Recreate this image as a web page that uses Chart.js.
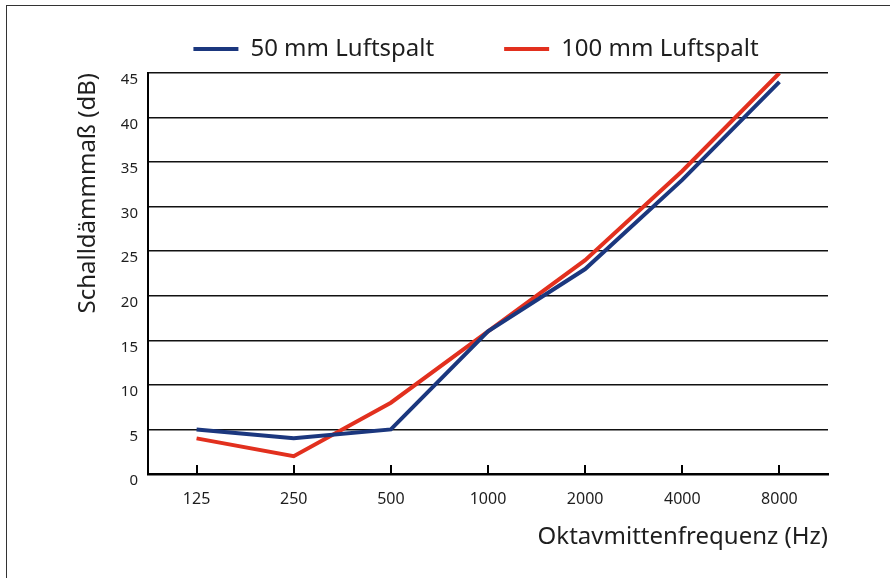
<!DOCTYPE html>
<html>
<head>
<meta charset="utf-8">
<script src="https://cdn.jsdelivr.net/npm/chart.js@4"></script>
<style>
    html, body { margin: 0; padding: 0; background: #fff; overflow: hidden; }
    #wrap { position: relative; width: 890px; height: 578px; }
    #frame { position: absolute; left: 6px; top: 5px; width: 900px; height: 600px; border: 1.5px solid #333; }
    #chart { position: absolute; left: 0; top: 0; }
</style>
</head>
<body>
<div id="wrap">
    <div id="frame"></div>
    <canvas id="chart" width="890" height="578"></canvas>
</div>
<script>
const frequencies = ['125', '250', '500', '1000', '2000', '4000', '8000'];
const gap50 = [5, 4, 5, 16, 23, 33, 44];
const gap100 = [4, 2, 8, 16, 24, 34, 45];
const yTicks = [0, 5, 10, 15, 20, 25, 30, 35, 40, 45];

const FONT = '"Noto Sans", "Open Sans", sans-serif';
const TEXT = '#1e1e1e';
const EN = '\u2002';

// small upward tick marks on the x axis at every category
const xTickMarks = {
    id: 'xTickMarks',
    afterDatasetsDraw(chart) {
        const x = chart.scales.x;
        const ctx = chart.ctx;
        const bottom = chart.chartArea.bottom;
        ctx.save();
        ctx.strokeStyle = '#000';
        ctx.lineWidth = 2;
        frequencies.forEach((f, i) => {
            const px = Math.round(x.getPixelForTick(i));
            ctx.beginPath();
            ctx.moveTo(px, bottom);
            ctx.lineTo(px, bottom - 9);
            ctx.stroke();
        });
        ctx.restore();
    }
};

// a bit more room under the legend
const legendGap = {
    id: 'legendGap',
    beforeInit(chart) {
        const fit = chart.legend.fit;
        chart.legend.fit = function () {
            fit.bind(chart.legend)();
            this.height += 2;
        };
    }
};

new Chart(document.getElementById('chart'), {
    type: 'line',
    data: {
        labels: frequencies,
        datasets: [
            {
                label: '50 mm Luftspalt',
                data: gap50,
                borderColor: '#1b377e',
                backgroundColor: '#1b377e',
                borderWidth: 4,
                pointRadius: 0,
                tension: 0
            },
            {
                label: '100 mm Luftspalt',
                data: gap100,
                borderColor: '#e2301e',
                backgroundColor: '#e2301e',
                borderWidth: 4,
                pointRadius: 0,
                tension: 0
            }
        ]
    },
    options: {
        responsive: false,
        animation: false,
        layout: { padding: { left: 0, right: 62, top: 27, bottom: 0 } },
        plugins: {
            legend: {
                position: 'top',
                fullSize: false,
                labels: {
                    color: TEXT,
                    font: { family: FONT, size: 24 },
                    boxWidth: 45,
                    boxHeight: 4,
                    padding: 10,
                    generateLabels(chart) {
                        const items = Chart.defaults.plugins.legend.labels.generateLabels(chart);
                        // trailing spaces keep the two entries apart like the original
                        const pad = [EN.repeat(5), EN.repeat(2)];
                        return items.map((l, i) => ({
                            ...l,
                            fillStyle: l.strokeStyle,
                            lineWidth: 0,
                            text: l.text + pad[i]
                        }));
                    }
                }
            },
            tooltip: { enabled: false }
        },
        scales: {
            x: {
                offset: true,
                grid: { display: false, drawTicks: false },
                border: { display: true, color: '#000', width: 2.5 },
                ticks: { color: TEXT, font: { family: FONT, size: 16 }, padding: 16 },
                title: {
                    display: true,
                    text: 'Oktavmittenfrequenz (Hz)',
                    align: 'end',
                    color: TEXT,
                    font: { family: FONT, size: 24 },
                    padding: { top: 26, bottom: 26 }
                },
                afterFit(scale) { scale.height = 104; }
            },
            y: {
                min: 0,
                max: 45,
                afterBuildTicks(scale) { scale.ticks = yTicks.map(v => ({ value: v })); },
                grid: { color: '#111', lineWidth: 1.5, drawTicks: false },
                border: { display: true, color: '#000', width: 2 },
                ticks: { color: TEXT, font: { family: FONT, size: 15 }, padding: 10, labelOffset: 7 },
                title: {
                    display: true,
                    text: 'Schalldämmmaß (dB)',
                    align: 'end',
                    color: TEXT,
                    font: { family: FONT, size: 24 },
                    padding: { top: 74, bottom: 0 }
                },
                afterFit(scale) { scale.width = 148; }
            }
        }
    },
    plugins: [xTickMarks, legendGap]
});
</script>
</body>
</html>
